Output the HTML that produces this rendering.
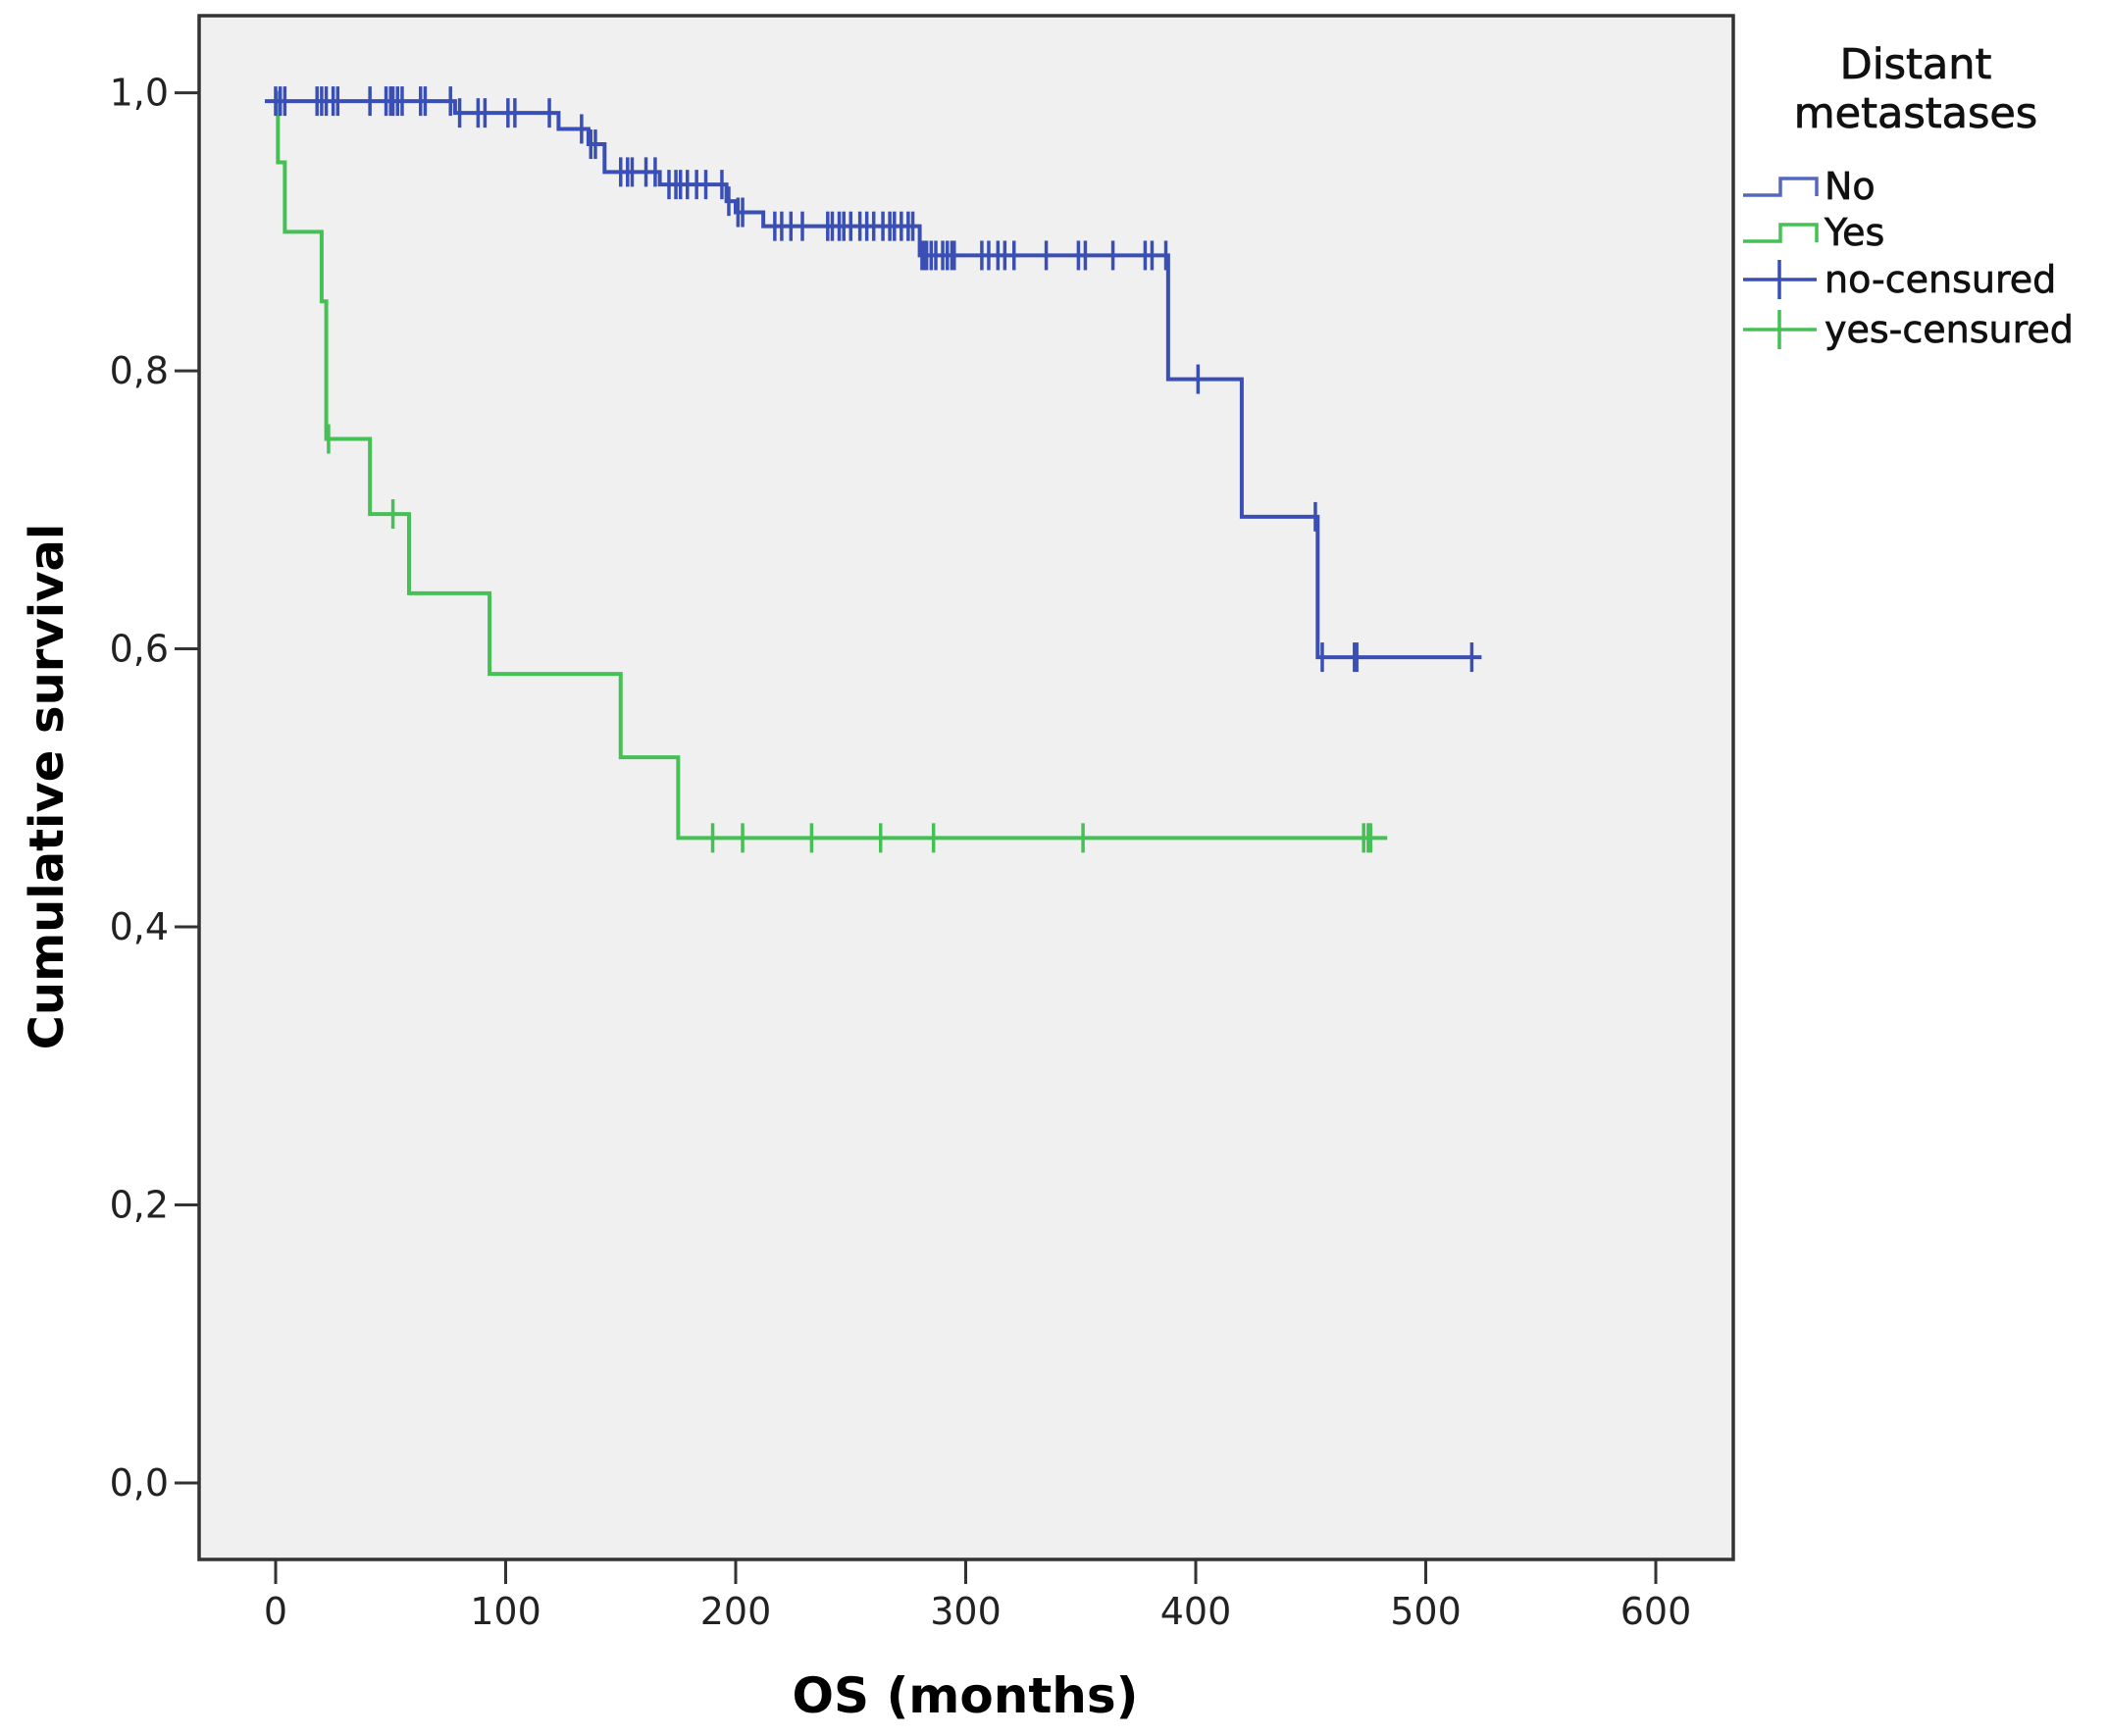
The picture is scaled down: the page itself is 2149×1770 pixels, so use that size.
<!DOCTYPE html>
<html><head><meta charset="utf-8"><style>
html,body{margin:0;padding:0;background:#fff;}
svg{display:block;font-family:"DejaVu Sans","Liberation Sans",sans-serif;}
</style></head><body>
<svg id="chart" width="2149" height="1770" viewBox="0 0 2149 1770">
<rect x="203" y="16" width="1564" height="1574" fill="#f0f0f0" stroke="#333" stroke-width="3.5"/>
<g id="axes"></g>
<g id="series"></g>
<text x="48" y="802" font-size="48" font-weight="bold" text-anchor="middle" transform="rotate(-90 48 802)" dominant-baseline="central">Cumulative survival</text>
<text x="984" y="1746" font-size="50" font-weight="bold" text-anchor="middle">OS (months)</text>
<g>
<text x="1953" y="80" font-size="43" text-anchor="middle" fill="#111" stroke="#111" stroke-width="0.8">Distant</text>
<text x="1953" y="130" font-size="43" text-anchor="middle" fill="#111" stroke="#111" stroke-width="0.8">metastases</text>
<path d="M1777 199 H1815 V182 H1852 V200" fill="none" stroke="#5468c0" stroke-width="3.5"/>
<text x="1860" y="203" font-size="38" fill="#111" stroke="#111" stroke-width="0.7">No</text>
<path d="M1777 246 H1815 V229 H1852 V247" fill="none" stroke="#45c055" stroke-width="3.5"/>
<text x="1860" y="250" font-size="38" fill="#111" stroke="#111" stroke-width="0.7">Yes</text>
<path d="M1777 285 H1852 M1814 265 V305" fill="none" stroke="#3a4fb5" stroke-width="3.5"/>
<text x="1860" y="298" font-size="38" fill="#111" stroke="#111" stroke-width="0.7">no-censured</text>
<path d="M1777 336 H1852 M1814 316 V356" fill="none" stroke="#45c055" stroke-width="3.5"/>
<text x="1860" y="349" font-size="38" fill="#111" stroke="#111" stroke-width="0.7">yes-censured</text>
</g>
</svg>
<script>
const xTicks = [0,100,200,300,400,500,600];
const yTicks = [0,0.2,0.4,0.6,0.8,1.0];
const yTickLabels = ["0,0","0,2","0,4","0,6","0,8","1,0"];
// No group: step times and survival after step
const noStepTimes = [0,78,123,136,143,167,196,200,212,280,388,420,453];
const noStepValues = [0.994,0.9855,0.974,0.963,0.943,0.934,0.922,0.914,0.904,0.883,0.794,0.695,0.594];
const noEnd = 520;
const noCensorTimes = [0,2,4,18,20,22,25,27,41,48,50,51,53,55,63,65,76,80,88,91,101,104,119,133,137,139,150,153,155,161,165,171,174,176,179,183,187,194,197,201,203,217,220,224,229,240,242,245,247,250,254,257,260,264,267,269,272,275,277,281,282,283,285,287,290,292,294,295,307,310,314,317,321,335,349,352,364,378,381,387,401,452,455,469,470,520];
// Yes group
const yesStepTimes = [0,1,4,20,22,41,58,93,150,175];
const yesStepValues = [1.0,0.95,0.90,0.85,0.751,0.697,0.640,0.582,0.522,0.464];
const yesEnd = 479;
const yesCensorTimes = [23,51,190,203,233,263,286,351,473,475,476];

const X = t => 281 + t*2.345;
const Y = v => 1512 - v*1417.4;
const NS = "http://www.w3.org/2000/svg";
const axes = document.getElementById('axes');
const series = document.getElementById('series');
function mk(tag, attrs, parent){const e=document.createElementNS(NS,tag);for(const k in attrs)e.setAttribute(k,attrs[k]);parent.appendChild(e);return e;}

xTicks.forEach(t=>{
  const l=mk('line',{x1:X(t),x2:X(t),y1:1590,y2:1615,stroke:'#333','stroke-width':3},axes);
  
  
  const tx=mk('text',{x:X(t),y:1656,'font-size':38,'text-anchor':'middle',fill:'#222'},axes);
  tx.textContent=t;
  
  
});
yTicks.forEach((v,i)=>{
  const l=mk('line',{x1:178,x2:203,y1:Y(v),y2:Y(v),stroke:'#333','stroke-width':3},axes);
  
  
  const tx=mk('text',{x:172,y:Y(v)+13,'font-size':38,'text-anchor':'end',fill:'#222'},axes);
  tx.textContent=yTickLabels[i];
  
  
});

function valueAt(times, vals, t){let v=vals[0];for(let i=0;i<times.length;i++){if(times[i]<=t)v=vals[i];}return v;}
function drawSeries(times, vals, end, censors, color, name, startX){
  let d='M'+startX+' '+Y(vals[0]);
  for(let i=1;i<times.length;i++){d+=' H'+X(times[i])+' V'+Y(vals[i]);}
  d+=' H'+(X(end)+10);
  const p=mk('path',{d:d,fill:'none',stroke:color,'stroke-width':4},series);
  
  
  censors.forEach(t=>{
    const v=valueAt(times,vals,t);
    const c=mk('line',{x1:X(t),x2:X(t),y1:Y(v)-15,y2:Y(v)+15,stroke:color,'stroke-width':3.5},series);
    
    
  });
}
drawSeries(yesStepTimes,yesStepValues,yesEnd,yesCensorTimes,'#45c055','yes',X(0));
drawSeries(noStepTimes,noStepValues,noEnd,noCensorTimes,'#3a4fb5','no',X(0)-11);
</script>
</body></html>
